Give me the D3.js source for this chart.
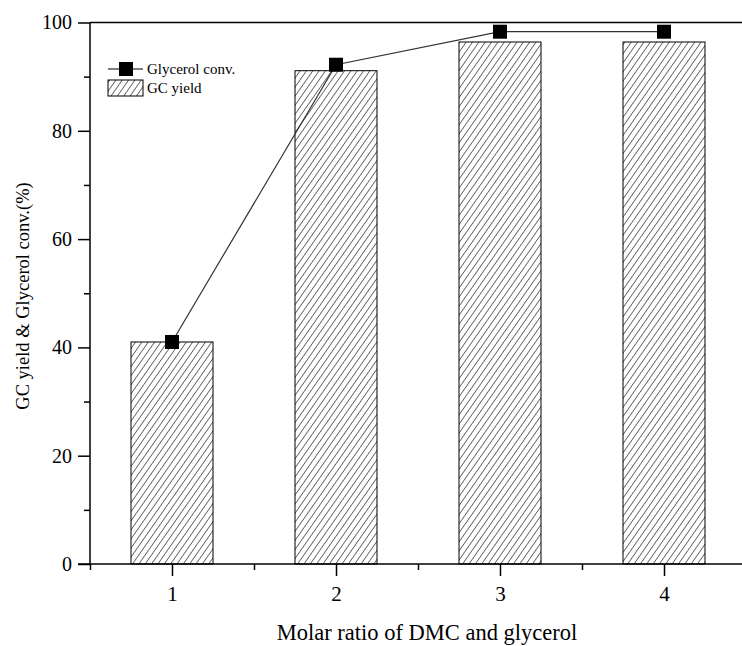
<!DOCTYPE html>
<html>
<head>
<meta charset="utf-8">
<script src="https://cdn.jsdelivr.net/npm/d3@7"></script>
<style>
  body { margin: 0; background: #fff; }
  svg { display: block; font-family: "Liberation Serif", "DejaVu Serif", serif; }
</style>
</head>
<body>
<svg id="chart" width="742" height="646"></svg>
<script>
// data
const ratios = [1, 2, 3, 4];
const gcYield = [41.0, 91.1, 96.4, 96.4];
const glycerolConv = [41.0, 92.2, 98.3, 98.3];
const yTicks = [0, 20, 40, 60, 80, 100];
const yMinor = [10, 30, 50, 70, 90];
const xMinor = [0.5, 1.5, 2.5, 3.5];

const svg = d3.select('#chart');

const plotLeft = 90, plotTop = 22.5, plotBottom = 564;
const x = d3.scaleLinear().domain([0.5, 4.5]).range([plotLeft, plotLeft + 4 * 164]);
const y = d3.scaleLinear().domain([0, 100]).range([plotBottom, plotTop]);

// hatch pattern for bars
const defs = svg.append('defs');
defs.append('pattern')
    .attr('id', 'hatch')
    .attr('patternUnits', 'userSpaceOnUse')
    .attr('width', 5.2).attr('height', 10)
    .attr('patternTransform', 'rotate(35)')
  .append('line')
    .attr('x1', 0).attr('y1', 0).attr('x2', 0).attr('y2', 10)
    .attr('stroke', '#000').attr('stroke-width', 1.1);

// bars
const barW = x(1.25) - x(0.75);
svg.append('g').selectAll('rect')
    .data(ratios)
    .enter()
    .append('rect')
    .attr('x', d => x(d) - barW / 2)
    .attr('y', (d, i) => y(gcYield[i]))
    .attr('width', barW)
    .attr('height', (d, i) => y(0) - y(gcYield[i]))
    .attr('fill', 'url(#hatch)')
    .attr('stroke', '#000')
    .attr('stroke-width', 1);

// conversion line + squares
const line = d3.line()
    .x(d => x(d[0]))
    .y(d => y(d[1]));
svg.append('path')
    .datum(ratios.map((r, i) => [r, glycerolConv[i]]))
    .attr('d', line)
    .attr('fill', 'none')
    .attr('stroke', '#333')
    .attr('stroke-width', 1.2);

svg.append('g').selectAll('rect')
    .data(ratios)
    .enter()
    .append('rect')
    .attr('x', d => x(d) - 7)
    .attr('y', (d, i) => y(glycerolConv[i]) - 7)
    .attr('width', 14).attr('height', 14)
    .attr('fill', '#000');

// axes
const xAxisG = svg.append('g')
    .attr('transform', `translate(0,${plotBottom})`)
    .call(d3.axisBottom(x).tickValues(ratios).tickSize(12).tickPadding(10).tickFormat(d3.format('d')));
svg.append('g')
    .attr('transform', `translate(0,${plotBottom})`)
    .call(d3.axisBottom(x).tickValues(xMinor).tickSize(6).tickFormat(''));

const yAxisG = svg.append('g')
    .attr('transform', `translate(${plotLeft},0)`)
    .call(d3.axisLeft(y).tickValues(yTicks).tickSize(12).tickPadding(6));
svg.append('g')
    .attr('transform', `translate(${plotLeft},0)`)
    .call(d3.axisLeft(y).tickValues(yMinor).tickSize(6).tickFormat(''));

svg.selectAll('.domain').remove();
svg.selectAll('.tick line').attr('stroke', '#000').attr('stroke-width', 1.5);
svg.selectAll('.tick text')
    .attr('fill', '#000')
    .style('font-family', '"Liberation Serif", serif');
xAxisG.selectAll('.tick text').style('font-size', '21px');
yAxisG.selectAll('.tick text').style('font-size', '20px');

// frame lines
svg.append('line')
    .attr('x1', plotLeft - 12).attr('x2', 742)
    .attr('y1', plotBottom).attr('y2', plotBottom)
    .attr('stroke', '#000').attr('stroke-width', 1.5);
svg.append('line')
    .attr('x1', plotLeft).attr('x2', plotLeft)
    .attr('y1', plotTop).attr('y2', plotBottom)
    .attr('stroke', '#000').attr('stroke-width', 1.5);
svg.append('line')
    .attr('x1', plotLeft).attr('x2', 742)
    .attr('y1', plotTop).attr('y2', plotTop)
    .attr('stroke', '#000').attr('stroke-width', 1.5);

// axis titles
svg.append('text')
    .attr('x', 427).attr('y', 640)
    .attr('text-anchor', 'middle')
    .style('font-size', '22.5px')
    .text('Molar ratio of DMC and glycerol');

svg.append('text')
    .attr('transform', 'translate(29,296) rotate(-90)')
    .attr('text-anchor', 'middle')
    .style('font-size', '18.5px')
    .text('GC yield & Glycerol conv.(%)');

// legend
const legend = svg.append('g');
legend.append('line')
    .attr('x1', 108).attr('x2', 143)
    .attr('y1', 69).attr('y2', 69)
    .attr('stroke', '#000').attr('stroke-width', 1.2);
legend.append('rect')
    .attr('x', 119).attr('y', 62).attr('width', 14).attr('height', 14)
    .attr('fill', '#000');
legend.append('text')
    .attr('x', 147).attr('y', 74)
    .style('font-size', '15px')
    .text('Glycerol conv.');
legend.append('rect')
    .attr('x', 108).attr('y', 80).attr('width', 35).attr('height', 16)
    .attr('fill', 'url(#hatch)')
    .attr('stroke', '#000').attr('stroke-width', 1);
legend.append('text')
    .attr('x', 147).attr('y', 93)
    .style('font-size', '15px')
    .text('GC yield');
</script>
</body>
</html>
